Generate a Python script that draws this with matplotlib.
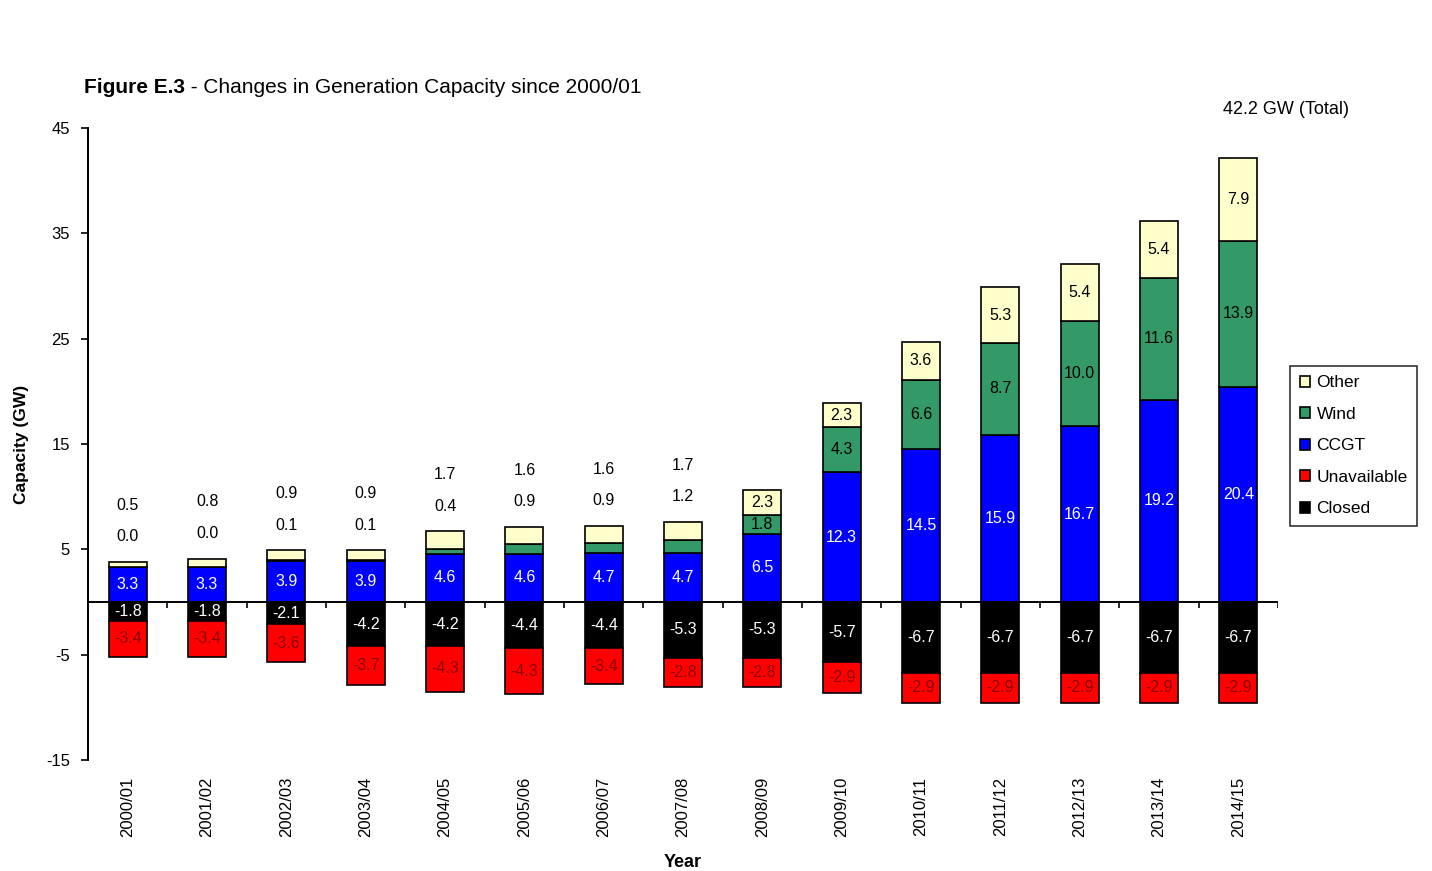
import matplotlib.pyplot as plt
import numpy as np

plt.rcParams['font.family'] = ['Liberation Sans', 'DejaVu Sans']

years = ['2000/01', '2001/02', '2002/03', '2003/04', '2004/05', '2005/06', '2006/07',
         '2007/08', '2008/09', '2009/10', '2010/11', '2011/12', '2012/13', '2013/14', '2014/15']

ccgt        = [3.3, 3.3, 3.9, 3.9, 4.6, 4.6, 4.7, 4.7, 6.5, 12.3, 14.5, 15.9, 16.7, 19.2, 20.4]
wind        = [0.0, 0.0, 0.1, 0.1, 0.4, 0.9, 0.9, 1.2, 1.8, 4.3, 6.6, 8.7, 10.0, 11.6, 13.9]
other       = [0.5, 0.8, 0.9, 0.9, 1.7, 1.6, 1.6, 1.7, 2.3, 2.3, 3.6, 5.3, 5.4, 5.4, 7.9]
closed      = [-1.8, -1.8, -2.1, -4.2, -4.2, -4.4, -4.4, -5.3, -5.3, -5.7, -6.7, -6.7, -6.7, -6.7, -6.7]
unavailable = [-3.4, -3.4, -3.6, -3.7, -4.3, -4.3, -3.4, -2.8, -2.8, -2.9, -2.9, -2.9, -2.9, -2.9, -2.9]

# bars whose wind/other segments are too thin get their labels above the bar
n_small = 8

c_other = '#ffffcc'
c_wind = '#339966'
c_ccgt = '#0000ff'
c_unav = '#ff0000'
c_closed = '#000000'

fig = plt.figure(figsize=(14.32, 8.71), dpi=100)
ax = fig.add_axes([0.0615, 0.1274, 0.831, 0.7256])

x = np.arange(len(years))
w = 0.48
ccgt = np.array(ccgt)
wind = np.array(wind)
other = np.array(other)
closed = np.array(closed)
unavailable = np.array(unavailable)

kw = dict(width=w, edgecolor='black', linewidth=1.2, zorder=3)
b_ccgt = ax.bar(x, ccgt, color=c_ccgt, **kw)
b_wind = ax.bar(x, wind, bottom=ccgt, color=c_wind, **kw)
b_other = ax.bar(x, other, bottom=ccgt + wind, color=c_other, **kw)
b_closed = ax.bar(x, closed, color=c_closed, **kw)
b_unav = ax.bar(x, unavailable, bottom=closed, color=c_unav, **kw)

fs = 11.5
for i in x:
    ax.text(i, ccgt[i] / 2, f'{ccgt[i]:.1f}', color='white', ha='center', va='center', fontsize=fs, zorder=4)
    ax.text(i, closed[i] / 2, f'{closed[i]:.1f}', color='white', ha='center', va='center', fontsize=fs, zorder=4)
    ax.text(i, closed[i] + unavailable[i] / 2, f'{unavailable[i]:.1f}', color='#8b0000',
            ha='center', va='center', fontsize=fs, zorder=4)
    top = ccgt[i] + wind[i] + other[i]
    if i < n_small:
        ax.text(i, top + 2.4, f'{wind[i]:.1f}', color='black', ha='center', va='center', fontsize=fs)
        ax.text(i, top + 5.4, f'{other[i]:.1f}', color='black', ha='center', va='center', fontsize=fs)
    else:
        ax.text(i, ccgt[i] + wind[i] / 2, f'{wind[i]:.1f}', color='black', ha='center', va='center',
                fontsize=fs, zorder=4)
        ax.text(i, ccgt[i] + wind[i] + other[i] / 2, f'{other[i]:.1f}', color='black', ha='center',
                va='center', fontsize=fs, zorder=4)

total = ccgt[-1] + wind[-1] + other[-1]
ax.text(x[-1] + 0.6, 46.8, f'{total:.1f} GW (Total)', ha='center', va='center', fontsize=13)

# zero line with category ticks
ax.axhline(0, color='black', linewidth=1.4, zorder=2)
bounds = np.arange(len(years) + 1) - 0.5
ax.vlines(bounds[1:], -0.6, 0, color='black', linewidth=1.2, zorder=2)

ax.set_xlim(-0.5, len(years) - 0.5)
ax.set_ylim(-15, 45)
ax.set_yticks([45, 35, 25, 15, 5, -5, -15])
ax.set_yticklabels(['45', '35', '25', '15', '5', '-5', '-15'], fontsize=12)
ax.set_xticks(x)
ax.set_xticklabels(years, rotation=90, fontsize=12)
ax.tick_params(axis='x', length=0, pad=12)
ax.tick_params(axis='y', length=5, width=1.2, pad=8)

for s in ['top', 'right', 'bottom']:
    ax.spines[s].set_visible(False)
ax.spines['left'].set_linewidth(1.4)

ax.set_ylabel('Capacity (GW)', fontsize=12.5, fontweight='bold', labelpad=12)
ax.set_xlabel('Year', fontsize=13, fontweight='bold', labelpad=12)

# title: bold figure number followed by plain description
t1 = fig.text(0.059, 0.9, 'Figure E.3', fontsize=15, fontweight='bold', va='center')
fig.canvas.draw()
ax.annotate(' - Changes in Generation Capacity since 2000/01', xy=(1, 0.5), xycoords=t1,
            va='center', ha='left', fontsize=15)

leg = ax.legend([b_other, b_wind, b_ccgt, b_unav, b_closed],
                ['Other', 'Wind', 'CCGT', 'Unavailable', 'Closed'],
                loc='upper left', bbox_to_anchor=(1.006, 0.632), fontsize=12.5,
                frameon=True, fancybox=False, edgecolor='black',
                handlelength=0.6, handleheight=0.6, handletextpad=0.35,
                labelspacing=0.95, borderpad=0.55, borderaxespad=0.3)
leg.get_frame().set_linewidth(1.2)

fig.savefig('out.png', dpi=100)
